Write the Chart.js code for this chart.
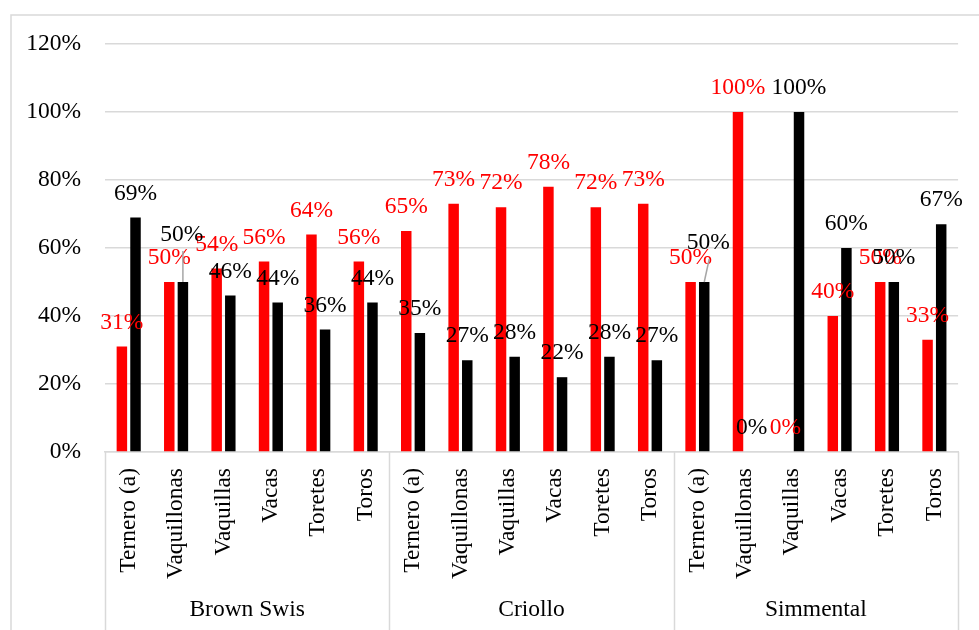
<!DOCTYPE html>
<html>
<head>
<meta charset="utf-8">
<script src="https://cdn.jsdelivr.net/npm/chart.js@4"></script>
<style>
  html, body { margin: 0; padding: 0; background: #fff; }
  canvas { display: block; }
</style>
</head>
<body>
<canvas id="chart" width="979" height="630"></canvas>
<script>
const groups = ["Brown Swis", "Criollo", "Simmental"];
const categories = ["Ternero (a)", "Vaquillonas", "Vaquillas", "Vacas", "Toretes", "Toros"];
const redValues = [31, 50, 54, 56, 64, 56, 65, 73, 72, 78, 72, 73, 50, 100, 0, 40, 50, 33];
const blackValues = [69, 50, 46, 44, 36, 44, 35, 27, 28, 22, 28, 27, 50, 0, 100, 60, 50, 67];
const yTicks = [0, 20, 40, 60, 80, 100, 120];

const labels = groups.flatMap(() => categories);
const gridColor = "#d9d9d9";
const fontFamily = '"Liberation Serif", "Times New Roman", serif';
const fontSize = 23.5;

Chart.defaults.font.family = fontFamily;
Chart.defaults.font.size = fontSize;
Chart.defaults.color = "#000";

// white background and the light frame around the whole chart
const frame = {
  id: "frame",
  beforeDraw(chart) {
    const ctx = chart.ctx;
    ctx.save();
    ctx.fillStyle = "#fff";
    ctx.fillRect(0, 0, chart.width, chart.height);
    ctx.strokeStyle = gridColor;
    ctx.lineWidth = 1.5;
    ctx.strokeRect(11, 15, chart.width + 20, chart.height + 20);
    ctx.restore();
  }
};

// vertical separators between the breed groups under the axis
const groupLines = {
  id: "groupLines",
  afterDraw(chart) {
    const x = chart.scales.x;
    const ctx = chart.ctx;
    const step = (x.right - x.left) / groups.length;
    ctx.save();
    ctx.strokeStyle = gridColor;
    ctx.lineWidth = 1.5;
    for (let k = 0; k <= groups.length; k++) {
      const px = Math.round(x.left + k * step) + 0.5;
      ctx.beginPath();
      ctx.moveTo(px, chart.chartArea.bottom);
      ctx.lineTo(px, chart.height);
      ctx.stroke();
    }
    ctx.restore();
  }
};

// percentage labels above every bar, a couple pushed up with a leader line
const valueLabels = {
  id: "valueLabels",
  afterDatasetsDraw(chart, args, opts) {
    const ctx = chart.ctx;
    ctx.save();
    ctx.font = fontSize + "px " + fontFamily;
    ctx.textAlign = "center";
    ctx.textBaseline = "middle";
    chart.data.datasets.forEach((ds, di) => {
      chart.getDatasetMeta(di).data.forEach((bar, i) => {
        const nudge = opts.nudges[di + ":" + i] || [0, 0];
        const lx = bar.x + nudge[0];
        const ly = bar.y - 24 + nudge[1];
        if (nudge[1] !== 0) {
          ctx.strokeStyle = "#a6a6a6";
          ctx.lineWidth = 1.5;
          ctx.beginPath();
          ctx.moveTo(lx + 1, ly + 16);
          ctx.lineTo(bar.x, bar.y);
          ctx.stroke();
        }
        ctx.fillStyle = ds.backgroundColor;
        ctx.fillText(ds.data[i] + "%", lx, ly);
      });
    });
    ctx.restore();
  }
};

new Chart(document.getElementById("chart"), {
  type: "bar",
  data: {
    labels: labels,
    datasets: [
      { label: "rojo", data: redValues, backgroundColor: "#ff0000" },
      { label: "negro", data: blackValues, backgroundColor: "#000000" }
    ]
  },
  options: {
    responsive: false,
    animation: false,
    devicePixelRatio: 1,
    categoryPercentage: 0.575,
    barPercentage: 0.77,
    layout: { padding: { left: 0, top: 44, right: 15, bottom: 0 } },
    plugins: {
      legend: { display: false },
      tooltip: { enabled: false },
      valueLabels: { nudges: { "1:1": [-1, -23], "1:12": [4, -15] } }
    },
    scales: {
      y: {
        min: 0,
        max: 120,
        afterBuildTicks: s => { s.ticks = yTicks.map(v => ({ value: v })); },
        afterFit: s => { s.width = 105; },
        ticks: { padding: 24, callback: v => v + "%" },
        grid: { color: gridColor, lineWidth: 1.5, drawTicks: false },
        border: { display: false }
      },
      x: {
        weight: 0,
        afterFit: s => { s.height = 138; },
        ticks: { minRotation: 90, maxRotation: 90, autoSkip: false, padding: 16 },
        grid: { display: false, drawTicks: false },
        border: { color: gridColor, width: 1.5 }
      },
      group: {
        type: "category",
        position: "bottom",
        weight: 1,
        labels: groups,
        offset: true,
        afterFit: s => { s.height = 40; },
        ticks: { maxRotation: 0, autoSkip: false, padding: 6 },
        grid: { display: false, drawTicks: false },
        border: { display: false }
      }
    }
  },
  plugins: [frame, groupLines, valueLabels]
});
</script>
</body>
</html>
